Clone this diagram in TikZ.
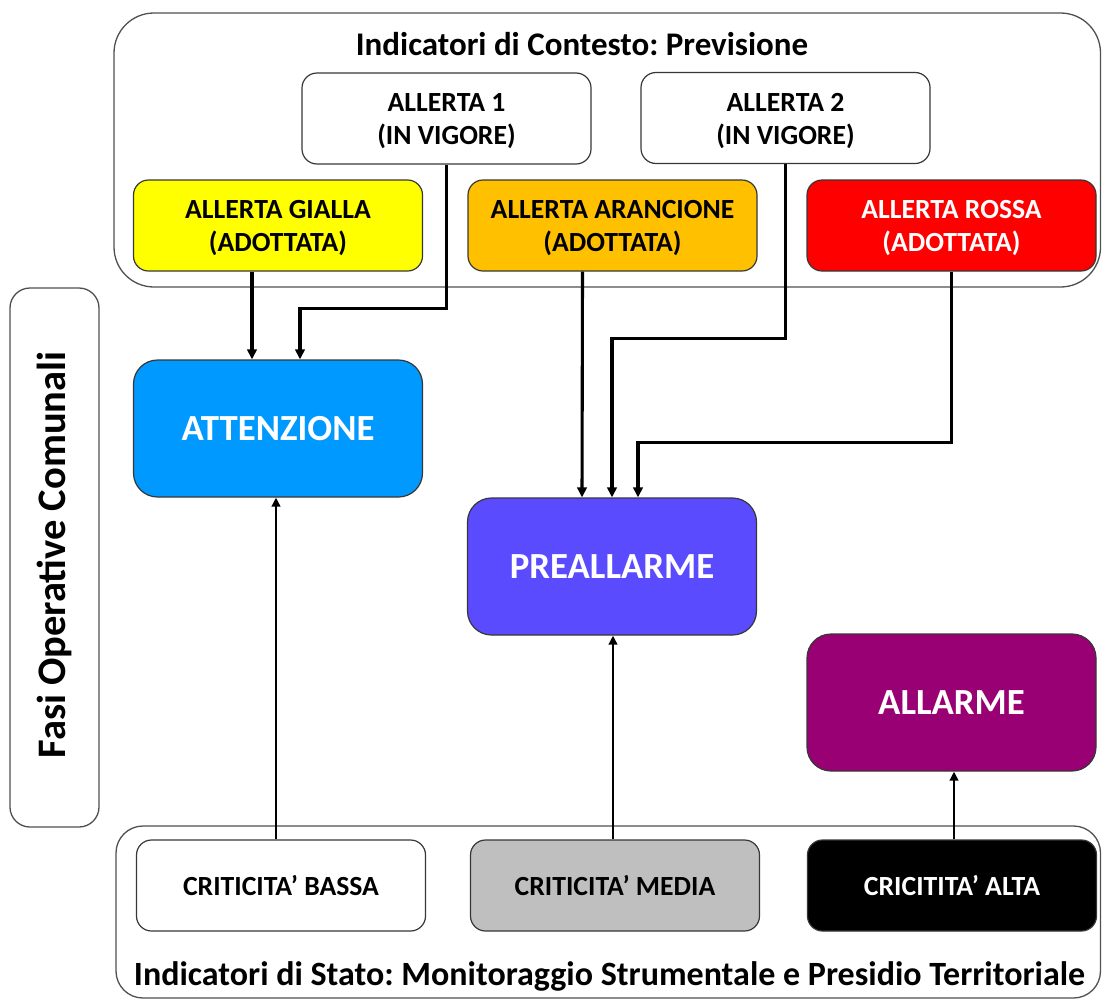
\documentclass[tikz,border=0pt]{standalone}
\usepackage{fontspec}
\setmainfont{Carlito}
\usetikzlibrary{arrows.meta}
\frenchspacing

\definecolor{edgegray}{RGB}{55,55,55}
\definecolor{framegray}{RGB}{80,80,80}
\definecolor{giallo}{RGB}{255,255,0}
\definecolor{arancio}{RGB}{255,192,0}
\definecolor{rosso}{RGB}{255,0,0}
\definecolor{azzurro}{RGB}{0,153,255}
\definecolor{viola}{RGB}{90,75,255}
\definecolor{porpora}{RGB}{153,0,115}
\definecolor{grigio}{RGB}{191,191,191}

% strut that balances the parenthesis depth of a second line
\newcommand{\firstline}{\rule{0pt}{23.5pt}}

\begin{document}
\begin{tikzpicture}[x=1pt,y=-1pt,
  box/.style={draw=edgegray, line width=1.2pt, rounded corners=15pt,
    minimum width=289pt, minimum height=91pt, inner sep=0pt, align=center,
    font=\fontsize{27.7}{33}\selectfont\bfseries},
  phase/.style={box, rounded corners=24pt, minimum height=137pt, text=white,
    font=\fontsize{36.8}{40}\selectfont\bfseries},
  frame/.style={draw=framegray, line width=1.3pt},
  headline/.style={anchor=base, font=\fontsize{33}{36}\selectfont\bfseries},
  arr/.style={line width=3.1pt, -{Triangle[length=10pt,width=9.5pt]}},
  arrup/.style={line width=2.6pt, -{Triangle[length=9pt,width=8.5pt]}}]

\useasboundingbox (0,0) rectangle (1102,999);

% containers
\draw[frame, rounded corners=40pt] (114,13) rectangle (1100.5,287);
\draw[frame, rounded corners=20pt] (10,288) rectangle (99,827);
\draw[frame, rounded corners=27pt] (116,826) rectangle (1100.5,998);

\node[headline] (tprev) at (582,55) {Indicatori di Contesto: Previsione};
\node[headline, font=\fontsize{34}{36}\selectfont\bfseries] (tstato) at (609.5,985) {Indicatori di Stato: Monitoraggio Strumentale e Presidio Territoriale};
\node[rotate=90, font=\fontsize{40.5}{44}\selectfont\bfseries] (fasi) at (54.5,555) {Fasi Operative Comunali};

% forecast boxes
\node[box, fill=white] (all1) at (446.5,118.5) {\firstline ALLERTA 1\\(IN VIGORE)};
\node[box, fill=white] (all2) at (785.5,118) {\firstline ALLERTA 2\\(IN VIGORE)};
\node[box, fill=giallo] (gialla) at (278,225.5) {\firstline ALLERTA GIALLA\\(ADOTTATA)};
\node[box, fill=arancio] (aranc) at (612.5,225.5) {\firstline ALLERTA ARANCIONE\\(ADOTTATA)};
\node[box, fill=rosso, text=white] (rossa) at (951.5,225.5) {\firstline ALLERTA ROSSA\\(ADOTTATA)};

% operative phases
\node[phase, fill=azzurro] (att) at (278,428.5) {ATTENZIONE};
\node[phase, fill=viola] (pre) at (612,566.5) {PREALLARME};
\node[phase, fill=porpora] (allarme) at (951.5,702.5) {ALLARME};

% state indicators
\node[box, fill=white] (bassa) at (281,885.5) {CRITICITA’ BASSA};
\node[box, fill=grigio] (media) at (615,885.5) {CRITICITA’ MEDIA};
\node[box, fill=black, text=white] (alta) at (952,885.5) {CRICITITA’ ALTA};

% forecast -> phases
\draw[arr] ([xshift=-26pt]gialla.south) -- ([xshift=-26pt]att.north);
\draw[arr] (all1.south) -- ++(0,144) -| ([xshift=22pt]att.north);
\draw[arr] ([xshift=-30pt]aranc.south) -- ([xshift=-30pt]pre.north);
\draw[arr] (all2.south) -- ++(0,174) -| (pre.north);
\draw[arr] (rossa.south) -- ++(0,171) -| ([xshift=26pt]pre.north);

% state -> phases
\draw[arrup] ([xshift=-5pt]bassa.north) -- ([xshift=-5pt]bassa.north |- att.south);
\draw[arrup] ([xshift=-2pt]media.north) -- ([xshift=-2pt]media.north |- pre.south);
\draw[arrup] ([xshift=2pt]alta.north) -- ([xshift=2pt]alta.north |- allarme.south);
\end{tikzpicture}
\end{document}
